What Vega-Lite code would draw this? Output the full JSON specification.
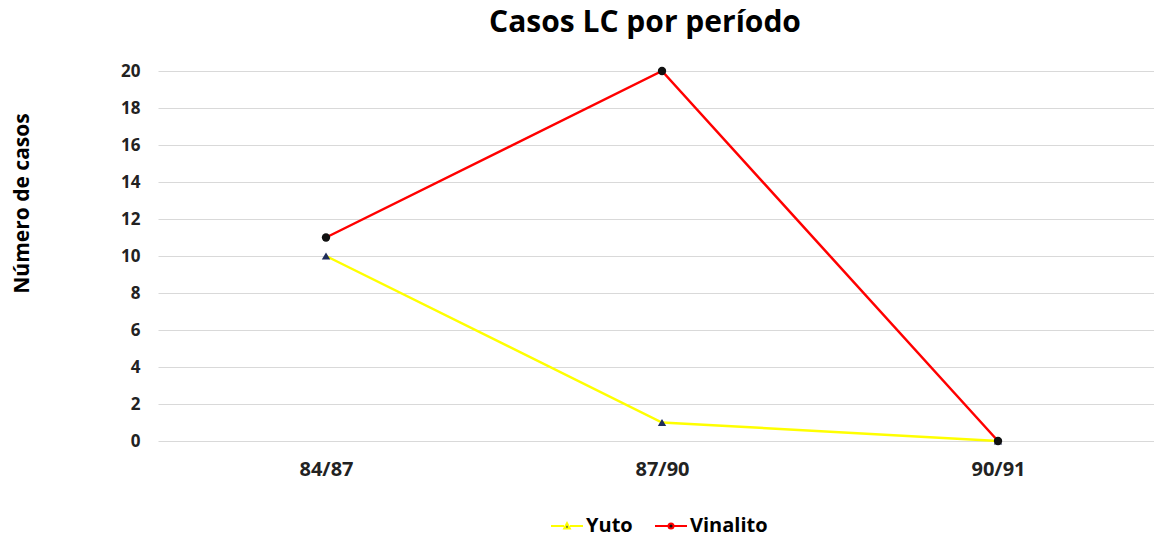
{
  "$schema": "https://vega.github.io/schema/vega-lite/v6.json",
  "width": 1008,
  "height": 370,
  "autosize": {"type": "none"},
  "padding": {"left": 158, "top": 71, "right": 0, "bottom": 97},
  "background": "white",
  "title": {
    "text": "Casos LC por período",
    "font": "Open Sans",
    "fontSize": 30,
    "fontWeight": "bold",
    "color": "#000000",
    "anchor": "middle",
    "offset": 24,
    "dx": -17
  },
  "config": {
    "view": {"stroke": null},
    "font": "Open Sans",
    "legend": {"layout": {"bottom": {"anchor": "middle"}}}
  },
  "data": {
    "values": [
      {"periodo": "84/87", "serie": "Yuto", "casos": 10},
      {"periodo": "87/90", "serie": "Yuto", "casos": 1},
      {"periodo": "90/91", "serie": "Yuto", "casos": 0},
      {"periodo": "84/87", "serie": "Vinalito", "casos": 11},
      {"periodo": "87/90", "serie": "Vinalito", "casos": 20},
      {"periodo": "90/91", "serie": "Vinalito", "casos": 0}
    ]
  },
  "encoding": {
    "x": {
      "field": "periodo",
      "type": "ordinal",
      "scale": {"type": "point", "padding": 0.5},
      "axis": {
        "title": null,
        "labelAngle": 0,
        "labelFont": "Open Sans",
        "labelFontSize": 20,
        "labelFontWeight": "bold",
        "labelColor": "#222222",
        "labelPadding": 18,
        "ticks": false,
        "domain": false,
        "grid": false
      }
    },
    "y": {
      "field": "casos",
      "type": "quantitative",
      "scale": {"domain": [0, 20], "nice": false},
      "axis": {
        "title": "Número de casos",
        "titleFont": "Open Sans",
        "titleFontSize": 21,
        "titleFontWeight": "bold",
        "titleColor": "#000000",
        "titleX": -136,
        "titleY": 132,
        "titleAngle": -90,
        "titleBaseline": "middle",
        "titleAlign": "center",
        "values": [0, 2, 4, 6, 8, 10, 12, 14, 16, 18, 20],
        "labelFont": "Open Sans",
        "labelFontSize": 17,
        "labelFontWeight": "bold",
        "labelColor": "#222222",
        "labelPadding": 18,
        "ticks": false,
        "domain": false,
        "grid": true,
        "gridColor": "#D9D9D9",
        "gridWidth": 1
      }
    }
  },
  "layer": [
    {
      "mark": {"type": "line", "strokeWidth": 2.5},
      "encoding": {
        "color": {
          "field": "serie",
          "type": "nominal",
          "scale": {"domain": ["Yuto", "Vinalito"], "range": ["#FFFF00", "#FF0000"]},
          "legend": {
            "orient": "bottom",
            "direction": "horizontal",
            "title": null,
            "offset": 36,
            "labelFont": "Open Sans",
            "labelFontSize": 20,
            "labelFontWeight": "bold",
            "labelColor": "#000000",
            "symbolSize": 400,
            "symbolStrokeWidth": 2,
            "columnPadding": 18,
            "labelOffset": 8,
            "encode": {
              "symbols": {
                "update": {
                  "shape": {"signal": "datum.value === 'Yuto' ? 'M-1.6,0H-0.3M0.3,0H1.6M-0.28,0.25L0,-0.28L0.28,0.25Z' : 'M-1.6,0H-0.25M0.25,0H1.6M-0.25,0A0.25,0.25 0 1,0 0.25,0A0.25,0.25 0 1,0 -0.25,0Z'"},
                  "fill": {"signal": "datum.value === 'Yuto' ? '#1F2D5A' : '#111111'"}
                }
              }
            }
          }
        }
      }
    },
    {
      "transform": [{"filter": "datum.serie === 'Yuto'"}],
      "mark": {"type": "point", "filled": true, "size": 70, "opacity": 1, "shape": "triangle-up", "color": "#1F2D5A"}
    },
    {
      "transform": [{"filter": "datum.serie === 'Vinalito'"}],
      "mark": {"type": "point", "filled": true, "size": 70, "opacity": 1, "shape": "circle", "color": "#111111"}
    }
  ]
}
